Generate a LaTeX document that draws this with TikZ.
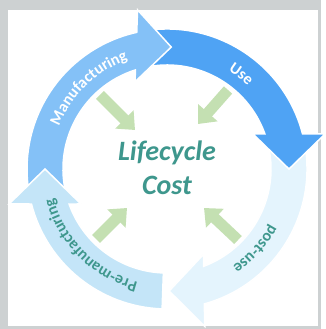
\documentclass[tikz,border=0pt]{standalone}
\usepackage{fontspec}
\setmainfont{Carlito}
\newfontfamily\labelfont{Carlito}
\usepackage{tikz}
\usetikzlibrary{arrows.meta, decorations.text}
\definecolor{framegray}{HTML}{CDD1D2}
\definecolor{manufill}{HTML}{84C1F7}
\definecolor{usefill}{HTML}{4FA3F4}
\definecolor{postfill}{HTML}{E4F4FD}
\definecolor{prefill}{HTML}{C4E5F8}
\definecolor{tealtext}{HTML}{3E978D}
\definecolor{greenfill}{HTML}{C4E0B2}
\tikzset{ringpiece/.style={draw=white, line width=1.5pt, line join=miter},
  greenarrow/.style={draw=greenfill, line width=11pt,
    -{Triangle[length=15pt, width=25pt]}},
  labeltext/.style n args={2}{
    decoration={
      text along path, text align=center, text color=#1,
      text={|\labelfont\bfseries\fontsize{16}{16}\selectfont|#2},
    },
    postaction={decorate}
  }
}
% one quarter of the ring: #1 tip angle, #2 tail angle (seen from the tip), #3 fill
\newcommand{\ringarrow}[3]{%
  \begin{scope}[shift={(167,160)}, rotate=#1]
    \draw[ringpiece, fill=#3] (#2:140) arc[start angle=#2, end angle=14.48, radius=140]
      -- (158,35) -- (122,0) -- (86,35) -- (19.67:104)
      arc[start angle=19.67, end angle=#2, radius=104] -- cycle;
  \end{scope}}

\begin{document}
\begin{tikzpicture}[x=1pt, y=1pt]
      \fill[framegray] (0,0) rectangle (321,329);
      \fill[white] (8,3) rectangle (318,319);
      \ringarrow{-89}{104}{postfill}
      \ringarrow{0}{103}{usefill}
      \ringarrow{88}{107}{manufill}
      \ringarrow{180}{88}{prefill}
      \begin{scope}[shift={(167,160)}]
        \path[labeltext={white}{Manufacturing}] (174:116) arc[start angle=174, end angle=94, radius=116];
        \path[labeltext={white}{Use}] (92:116) arc[start angle=92, end angle=12, radius=116];
        \path[labeltext={tealtext}{post-use}] (-2:117) arc[start angle=-2, end angle=-82, radius=117];
        \path[labeltext={tealtext}{Pre-manufacturing}] (275:117) arc[start angle=275, end angle=175, radius=117];
      \end{scope}
      \node[text=tealtext, align=center, inner sep=0pt,
        font=\bfseries\itshape\fontsize{28}{34}\selectfont] (cost) at (167,161) {Lifecycle\\Cost};
      \coordinate (tlA) at (100,234);
      \coordinate (tlB) at (135,199);
      \coordinate (trA) at (228,239);
      \coordinate (trB) at (198,205);
      \coordinate (blA) at (96,90);
      \coordinate (blB) at (127,121);
      \coordinate (brA) at (238,89);
      \coordinate (brB) at (204,121);
      \draw[greenarrow] (tlA) -- (tlB);
      \draw[greenarrow] (trA) -- (trB);
      \draw[greenarrow] (blA) -- (blB);
      \draw[greenarrow] (brA) -- (brB);
    \end{tikzpicture}
\end{document}
